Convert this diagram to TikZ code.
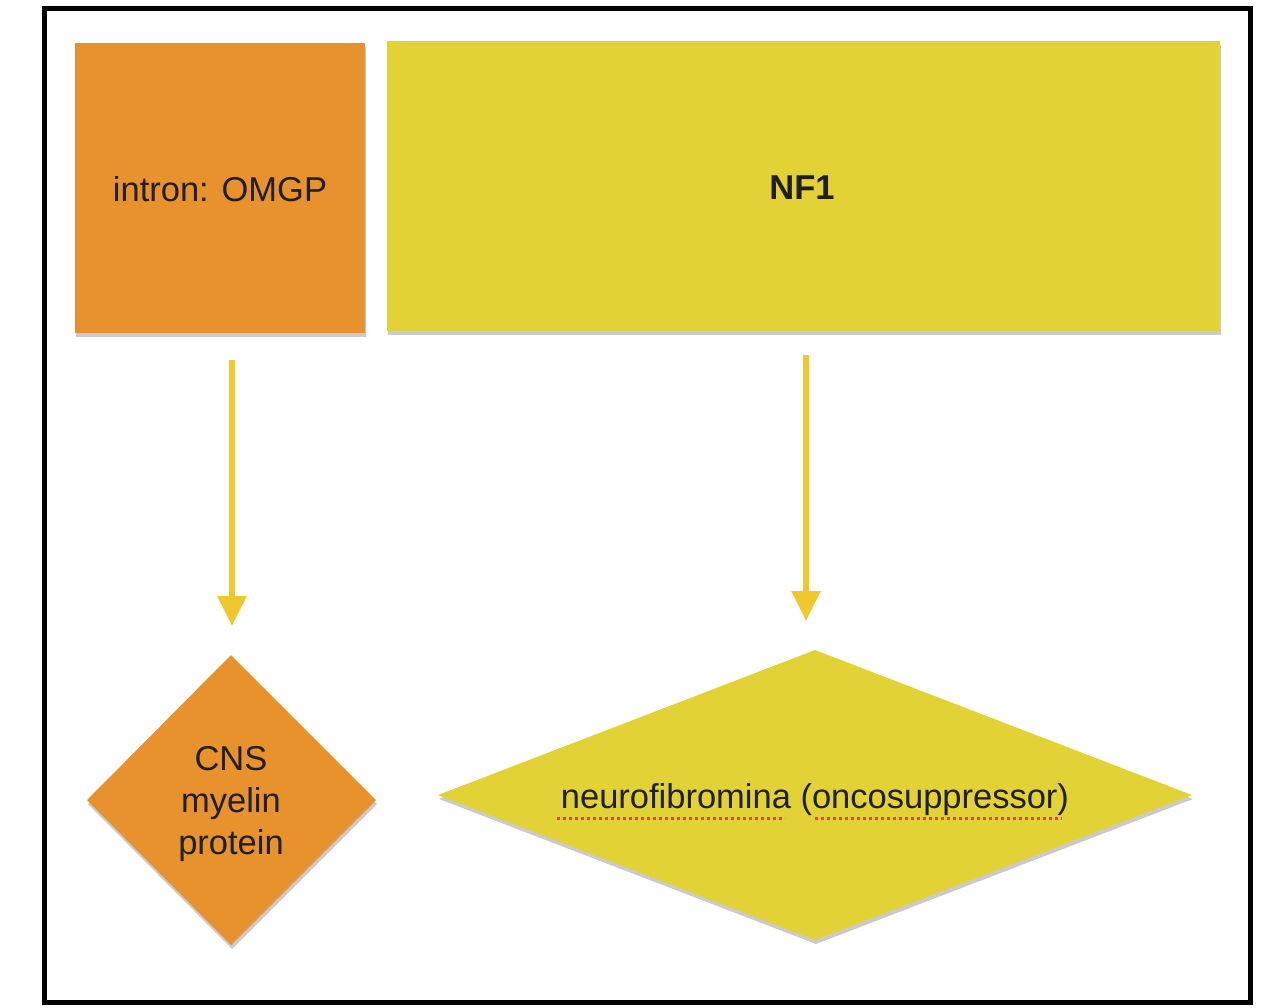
\documentclass[tikz,border=0pt]{standalone}
\usepackage{fontspec}
\setmainfont{Liberation Sans}
\usetikzlibrary{arrows.meta,shadows,shapes.geometric}
\definecolor{orangebox}{HTML}{E8922E}
\definecolor{yellowbox}{HTML}{E3D236}
\definecolor{arrowcol}{HTML}{EEC82C}
\definecolor{spellred}{HTML}{E8442A}
\tikzset{
  boxshape/.style={draw=none, drop shadow={shadow xshift=1pt, shadow yshift=-4pt, opacity=0.35, fill=black!60}},
  flowarrow/.style={draw=arrowcol, line width=6pt, -{Triangle[width=28pt,length=30pt]}},
  lbl/.style={font=\fontsize{34.5}{42}\selectfont, text=black!88, align=center}
}
\begin{document}
\begin{tikzpicture}[x=1pt,y=-1pt]
\useasboundingbox (0,0) rectangle (1263,1007);
\draw[line width=5pt] (44.5,8.5) rectangle (1250.5,1002.5);
% top boxes
\path[boxshape, fill=orangebox] (75,43) rectangle (365,333);
\node[lbl] (omgp) at (220,189) {intron: OMGP};
\path[boxshape, fill=yellowbox] (387,41) rectangle (1220,331);
\node[lbl, font=\fontsize{34.5}{42}\selectfont\bfseries] (nf1) at (802,188) {NF1};
% diamonds
\path[boxshape, fill=orangebox] (231,655) -- (376,800) -- (231,945) -- (87,800) -- cycle;
\node[lbl] (cns) at (231,804) {CNS\\myelin\\protein};
\path[boxshape, fill=yellowbox] (815,650) -- (1192,795) -- (815,940) -- (438,795) -- cycle;
\node[lbl] (neuro) at (815,800) {neurofibromina (oncosuppressor)};
% spell-check underlines
\draw[spellred, line width=3pt, dash pattern=on 3pt off 3pt] (557,818) -- (785,818);
\draw[spellred, line width=3pt, dash pattern=on 3pt off 3pt] (815,818) -- (1062,818);
% arrows
\coordinate (a1s) at (232,360);
\coordinate (a1e) at (232,626);
\coordinate (a2s) at (806,355);
\coordinate (a2e) at (806,621);
\draw[flowarrow] (a1s) -- (a1e);
\draw[flowarrow] (a2s) -- (a2e);
\end{tikzpicture}
\end{document}
